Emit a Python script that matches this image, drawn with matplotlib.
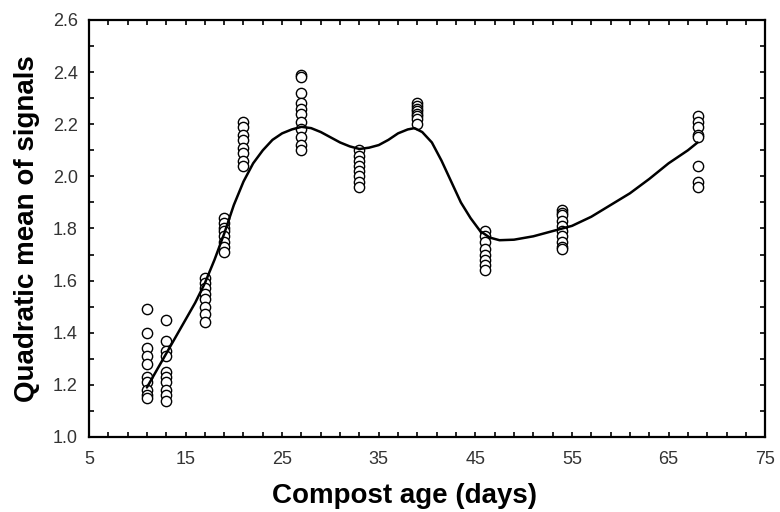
import matplotlib
matplotlib.use("Agg")
import matplotlib.pyplot as plt
from matplotlib.ticker import MultipleLocator, FormatStrFormatter

# Observed points: compost age (days) -> signal values
ages = [11, 13, 17, 19, 21, 27, 33, 39, 46, 54, 68]
values = [
    [1.49, 1.40, 1.34, 1.31, 1.28, 1.23, 1.21, 1.18, 1.16, 1.15],
    [1.45, 1.37, 1.33, 1.31, 1.25, 1.23, 1.21, 1.18, 1.16, 1.14],
    [1.61, 1.59, 1.57, 1.55, 1.53, 1.50, 1.47, 1.44],
    [1.84, 1.82, 1.80, 1.79, 1.77, 1.75, 1.73, 1.71],
    [2.21, 2.19, 2.16, 2.14, 2.11, 2.09, 2.06, 2.04],
    [2.39, 2.38, 2.32, 2.28, 2.26, 2.24, 2.21, 2.18, 2.15, 2.12, 2.10],
    [2.10, 2.08, 2.06, 2.04, 2.02, 2.00, 1.98, 1.96],
    [2.28, 2.27, 2.26, 2.25, 2.24, 2.23, 2.22, 2.20],
    [1.79, 1.77, 1.75, 1.72, 1.70, 1.68, 1.66, 1.64],
    [1.87, 1.86, 1.85, 1.83, 1.81, 1.79, 1.77, 1.75, 1.73, 1.72],
    [2.23, 2.21, 2.19, 2.16, 2.15, 2.04, 1.98, 1.96],
]

# Smoothed fit curve
curve_x = [11, 12, 13, 14, 15, 16, 17, 18, 19, 20, 21, 22, 23, 24, 25, 26, 27,
           28, 29, 30, 31, 32, 33, 34, 35, 36, 37, 38, 38.7, 39.5, 40.5, 41.5,
           42.5, 43.5, 44.5, 45.5, 46.5, 47.5, 49, 51, 53, 55, 57, 59, 61, 63,
           65, 67, 68]
curve_y = [1.19, 1.255, 1.32, 1.385, 1.45, 1.515, 1.59, 1.68, 1.78, 1.89, 1.98,
           2.05, 2.10, 2.14, 2.165, 2.18, 2.19, 2.185, 2.17, 2.15, 2.13, 2.115,
           2.105, 2.11, 2.12, 2.14, 2.165, 2.18, 2.185, 2.17, 2.13, 2.06, 1.98,
           1.90, 1.84, 1.79, 1.765, 1.755, 1.757, 1.77, 1.79, 1.81, 1.845, 1.89,
           1.935, 1.99, 2.05, 2.10, 2.13]

x_label = "Compost age (days)"
y_label = "Quadratic mean of signals"

plt.rcParams['font.family'] = ['Liberation Sans', 'DejaVu Sans']

fig = plt.figure(figsize=(7.8, 5.12), dpi=100)
ax = fig.add_axes([0.114, 0.1465, 0.867, 0.8145])

xs, ys = [], []
for a, vals in zip(ages, values):
    xs.extend([a] * len(vals))
    ys.extend(vals)
ax.plot(xs, ys, linestyle='none', marker='o', markersize=7.4,
        markerfacecolor='white', markeredgecolor='black', markeredgewidth=1.0, zorder=2)
ax.plot(curve_x, curve_y, color='black', linewidth=1.8, zorder=3,
        solid_joinstyle='round', solid_capstyle='round')

ax.set_xlim(5, 75)
ax.set_ylim(1.0, 2.6)
ax.xaxis.set_major_locator(MultipleLocator(10, offset=5))
ax.xaxis.set_minor_locator(MultipleLocator(2, offset=1))
ax.yaxis.set_major_locator(MultipleLocator(0.2))
ax.yaxis.set_minor_locator(MultipleLocator(0.1))
ax.yaxis.set_major_formatter(FormatStrFormatter('%.1f'))
ax.tick_params(which='both', direction='in', top=True, right=True, length=3.5,
               width=1.2, labelsize=13, labelcolor='#333333')
ax.tick_params(axis='x', pad=10)
ax.tick_params(axis='y', pad=8)

for s in ax.spines.values():
    s.set_linewidth(1.6)

ax.set_xlabel(x_label, fontsize=20, fontweight='bold')
ax.xaxis.set_label_coords(0.467, -0.11)
ax.set_ylabel(y_label, fontsize=20, fontweight='bold', labelpad=9)

fig.savefig('out.png', dpi=100)
